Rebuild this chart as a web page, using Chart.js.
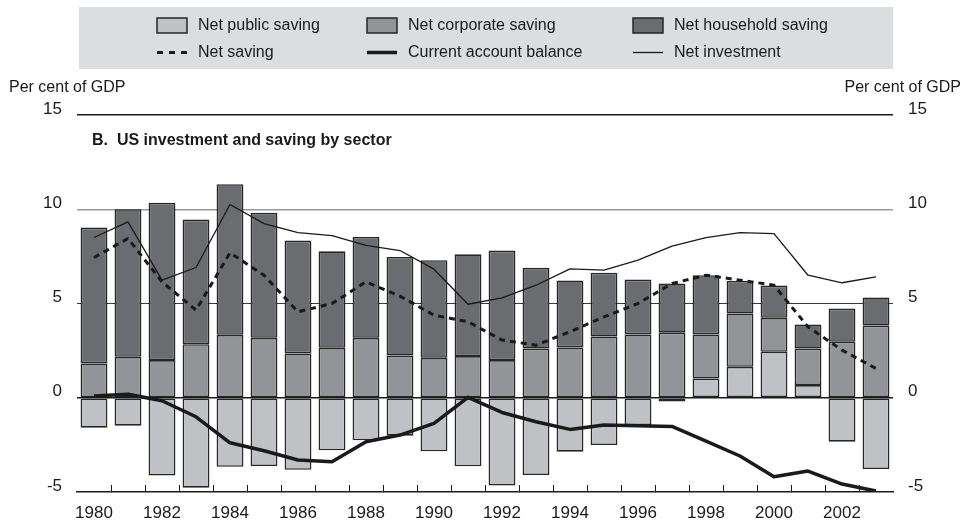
<!DOCTYPE html>
<html>
<head>
<meta charset="utf-8">
<script src="https://cdn.jsdelivr.net/npm/chart.js@4/dist/chart.umd.min.js"></script>
<style>
  html, body { margin: 0; padding: 0; background: #fff; }
  #wrap { position: relative; width: 963px; height: 521px; }
</style>
</head>
<body>
<div id="wrap"><canvas id="myChart"></canvas></div>
<script>
const years = ['1980', '1981', '1982', '1983', '1984', '1985', '1986', '1987', '1988', '1989', '1990', '1991',
  '1992', '1993', '1994', '1995', '1996', '1997', '1998', '1999', '2000', '2001', '2002', '2003'];

const publicSaving = [-1.59, -1.48, -4.13, -4.77, -3.66, -3.62, -3.82, -2.79, -2.26, -2.01, -2.84, -3.64,
  -4.66, -4.10, -2.86, -2.51, -1.45, -0.20, 1.02, 1.64, 2.44, 0.67, -2.33, -3.78];
const corporateSaving = [1.82, 2.17, 2.00, 2.84, 3.34, 3.18, 2.35, 2.65, 3.18, 2.24, 2.12, 2.21,
  2.00, 2.61, 2.67, 3.25, 3.36, 3.45, 2.34, 2.83, 1.80, 1.94, 2.97, 3.83];
const householdSaving = [7.21, 7.83, 8.35, 6.61, 7.99, 6.63, 5.99, 5.12, 5.35, 5.23, 5.18, 5.40,
  5.81, 4.28, 3.55, 3.38, 2.91, 2.61, 3.14, 1.73, 1.71, 1.28, 1.76, 1.49];

const netSaving = [7.44, 8.45, 6.15, 4.65, 7.69, 6.50, 4.56, 5.00, 6.15, 5.39, 4.38, 4.03,
  3.06, 2.79, 3.50, 4.29, 5.00, 6.06, 6.50, 6.24, 5.97, 3.76, 2.53, 1.55];
const currentAccount = [0.09, 0.19, -0.16, -1.01, -2.39, -2.81, -3.30, -3.39, -2.33, -1.98, -1.36, 0.02,
  -0.78, -1.27, -1.68, -1.45, -1.48, -1.52, -2.30, -3.09, -4.19, -3.89, -4.58, -4.95];
const netInvestment = [8.50, 9.33, 6.24, 6.91, 10.25, 9.24, 8.76, 8.60, 8.08, 7.81, 6.82, 4.96,
  5.30, 5.97, 6.84, 6.77, 7.30, 8.04, 8.50, 8.76, 8.71, 6.50, 6.10, 6.41];

const yTicks = [-5, 0, 5, 10, 15];

const FONT = '"Liberation Sans", Arial, Helvetica, sans-serif';
const LIGHT = '#c0c1c5';
const MID = '#939497';
const DARK = '#6b6c70';
const EDGE = '#262626';

// legend, unit labels and panel title
const extras = {
  id: 'extras',
  beforeDraw(chart) {
    const c = chart.ctx;
    c.save();
    c.fillStyle = '#dcdddf';
    c.fillRect(79, 7, 814, 62);
    c.restore();
  },
  afterDraw(chart) {
    const c = chart.ctx;
    c.save();
    c.font = '16px ' + FONT;
    c.fillStyle = '#1a1a1a';
    c.textBaseline = 'middle';

    const cols = [157, 367, 633];
    const boxes = [[LIGHT, 'Net public saving'], [MID, 'Net corporate saving'], [DARK, 'Net household saving']];
    boxes.forEach((b, i) => {
      c.fillStyle = b[0];
      c.fillRect(cols[i], 18, 30, 15);
      c.strokeStyle = EDGE;
      c.lineWidth = 1.5;
      c.strokeRect(cols[i], 18, 30, 15);
      c.fillStyle = '#1a1a1a';
      c.fillText(b[1], cols[i] + 41, 26);
    });
    const lines = [[[6, 6], 3, 'Net saving'], [[], 3.5, 'Current account balance'], [[], 1.3, 'Net investment']];
    lines.forEach((l, i) => {
      c.beginPath();
      c.setLineDash(l[0]);
      c.lineWidth = l[1];
      c.strokeStyle = '#1a1a1a';
      c.moveTo(cols[i], 52.5);
      c.lineTo(cols[i] + 30, 52.5);
      c.stroke();
      c.setLineDash([]);
      c.fillText(l[2], cols[i] + 41, 52.5);
    });

    c.fillText('Per cent of GDP', 9, 88);
    c.textAlign = 'right';
    c.fillText('Per cent of GDP', 961, 88);
    c.textAlign = 'left';

    c.font = 'bold 16px ' + FONT;
    c.fillText('B.  US investment and saving by sector', 92, 141);

    // inner tick marks between categories
    const x = chart.scales.x;
    const bottom = chart.chartArea.bottom;
    c.strokeStyle = '#1a1a1a';
    c.lineWidth = 1;
    for (let i = 1; i < years.length; i++) {
      const px = Math.round((x.getPixelForValue(i - 1) + x.getPixelForValue(i)) / 2) + 0.5;
      c.beginPath();
      c.moveTo(px, bottom);
      c.lineTo(px, bottom - 7);
      c.stroke();
    }
    c.restore();
  }
};

function makeChart() {
  const ctx = document.getElementById('myChart').getContext('2d');
  const barStyle = {
    type: 'bar',
    stack: 'bars',
    order: 2,
    borderColor: EDGE,
    borderWidth: 1.6,
    borderSkipped: false,
    categoryPercentage: 1,
    barPercentage: 0.79
  };
  const lineStyle = {
    type: 'line',
    order: 0,
    borderColor: '#1a1a1a',
    borderJoinStyle: 'round',
    pointRadius: 0,
    tension: 0,
    fill: false
  };
  return new Chart(ctx, {
    data: {
      labels: years,
      datasets: [
        Object.assign({}, barStyle, { label: 'Net public saving', data: publicSaving, backgroundColor: LIGHT }),
        Object.assign({}, barStyle, { label: 'Net corporate saving', data: corporateSaving, backgroundColor: MID }),
        Object.assign({}, barStyle, { label: 'Net household saving', data: householdSaving, backgroundColor: DARK }),
        Object.assign({}, lineStyle, { label: 'Net saving', data: netSaving, stack: 's1', borderWidth: 3, borderDash: [6, 5] }),
        Object.assign({}, lineStyle, { label: 'Current account balance', data: currentAccount, stack: 's2', borderWidth: 3.5 }),
        Object.assign({}, lineStyle, { label: 'Net investment', data: netInvestment, stack: 's3', borderWidth: 1.3 })
      ]
    },
    options: {
      responsive: true,
      maintainAspectRatio: false,
      animation: false,
      layout: { padding: { top: 115, left: 0, right: 0, bottom: 0 } },
      plugins: { legend: { display: false }, tooltip: { enabled: false } },
      scales: {
        x: {
          stacked: true,
          offset: true,
          grid: { display: false },
          border: { display: true, color: '#1a1a1a', width: 1.5 },
          ticks: {
            autoSkip: false,
            maxRotation: 0,
            padding: 3,
            color: '#1a1a1a',
            font: { family: FONT, size: 17 },
            callback: (v, i) => (i % 2 === 0 ? years[i] : '')
          },
          afterFit: (s) => { s.height = 29; }
        },
        y: {
          stacked: true,
          position: 'left',
          min: -5,
          max: 15,
          afterBuildTicks: (s) => { s.ticks = yTicks.map(v => ({ value: v })); },
          grid: {
            drawTicks: false,
            color: (g) => (g.tick.value === 10 ? '#9a9a9a' : g.tick.value === 5 ? '#3a3a3a' : '#1a1a1a'),
            lineWidth: (g) => (g.tick.value === 5 ? 1 : g.tick.value === -5 ? 0 : 1.5)
          },
          border: { display: false },
          ticks: {
            padding: 15,
            labelOffset: -6,
            color: '#1a1a1a',
            font: { family: FONT, size: 17 }
          },
          afterFit: (s) => { s.width = 77; }
        },
        y2: {
          position: 'right',
          min: -5,
          max: 15,
          afterBuildTicks: (s) => { s.ticks = yTicks.map(v => ({ value: v })); },
          grid: { display: false, drawTicks: false },
          border: { display: false },
          ticks: {
            padding: 15,
            labelOffset: -6,
            color: '#1a1a1a',
            font: { family: FONT, size: 17 }
          },
          afterFit: (s) => { s.width = 70; }
        }
      }
    },
    plugins: [extras]
  });
}

const chart = makeChart();
</script>
</body>
</html>
